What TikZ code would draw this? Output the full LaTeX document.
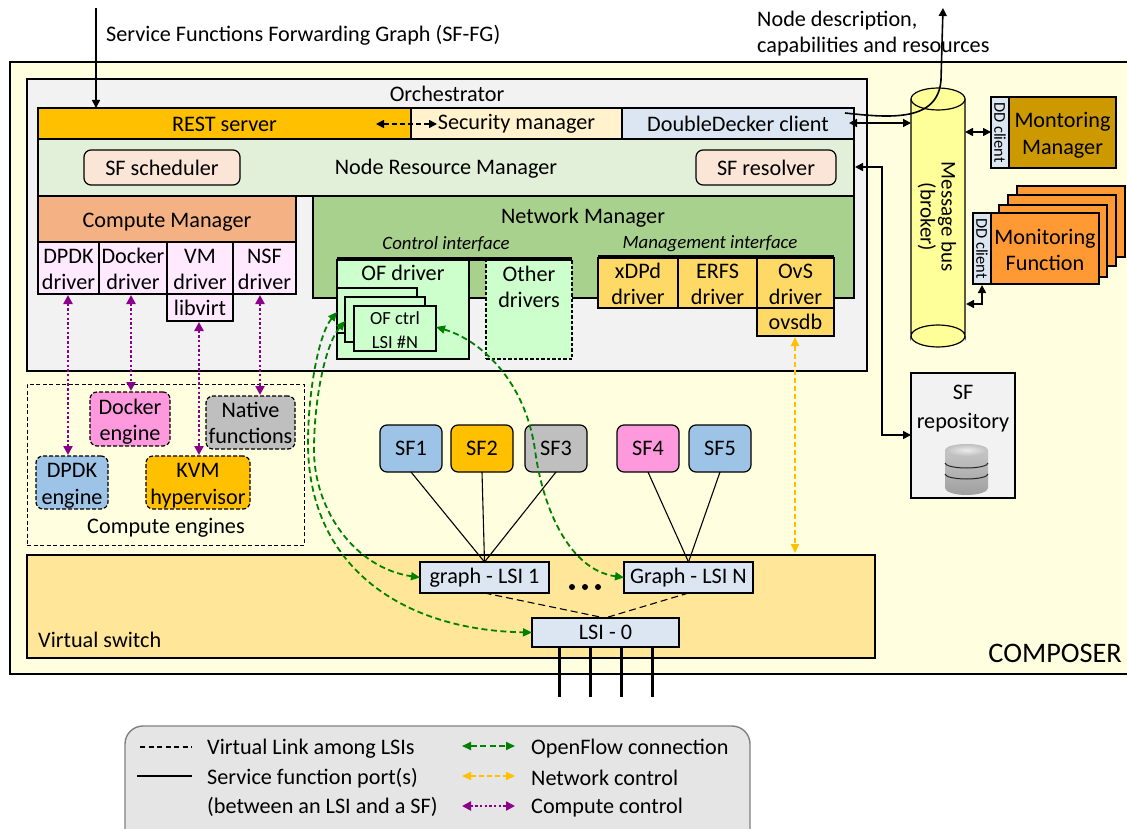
\documentclass[tikz,border=0pt]{standalone}
\usepackage{fontspec}
\setmainfont{Carlito}
\usetikzlibrary{arrows.meta,calc}
\definecolor{compbg}{HTML}{FFFFE0}
\definecolor{orchbg}{HTML}{F2F2F2}
\definecolor{restc}{HTML}{FFC000}
\definecolor{secc}{HTML}{FFF2CC}
\definecolor{ddc}{HTML}{DCE6F2}
\definecolor{nrmc}{HTML}{E2EFD9}
\definecolor{sfsc}{HTML}{FBE5D6}
\definecolor{cmc}{HTML}{F4B183}
\definecolor{drvc}{HTML}{FFE9FF}
\definecolor{nmc}{HTML}{A9D18E}
\definecolor{ofc}{HTML}{CCFFCC}
\definecolor{mgc}{HTML}{FFD966}
\definecolor{busc}{HTML}{FFFF99}
\definecolor{mmc}{HTML}{CC9900}
\definecolor{mfc}{HTML}{FF9933}
\definecolor{vsc}{HTML}{FFE699}
\definecolor{bluec}{HTML}{9DC3E6}
\definecolor{pinkc}{HTML}{FF99DD}
\definecolor{grayc}{HTML}{BFBFBF}
\definecolor{ofgreen}{HTML}{008000}
\definecolor{purp}{HTML}{8B008B}
\tikzset{
 bx/.style={draw=black,line width=1.2pt,align=center,inner sep=0pt,outer sep=0pt,font=\fontsize{22.2}{26.5}\selectfont},
 rbx/.style={bx,rounded corners=7pt},
 dbx/.style={bx,rounded corners=7pt,dash pattern=on 4pt off 2pt},
 lab/.style={inner sep=0pt,font=\fontsize{22.2}{26.5}\selectfont,align=center},
 blk/.style={line width=1.6pt,{Triangle[length=8pt,width=8pt]}-{Triangle[length=8pt,width=8pt]}},
 blkone/.style={line width=1.6pt,-{Triangle[length=8pt,width=8pt]}},
 ofl/.style={draw=ofgreen,line width=1.8pt,dash pattern=on 6pt off 3.5pt,{Triangle[length=9pt,width=8pt]}-{Triangle[length=9pt,width=8pt]},color=ofgreen},
 netl/.style={draw=restc,line width=1.8pt,dash pattern=on 5pt off 3pt,{Triangle[length=9pt,width=8pt]}-{Triangle[length=9pt,width=8pt]},color=restc},
 cpl/.style={draw=purp,line width=2.5pt,dash pattern=on 2.5pt off 2.2pt,{Triangle[length=9pt,width=9pt]}-{Triangle[length=9pt,width=9pt]},color=purp},
 vlink/.style={line width=1.1pt,dash pattern=on 7pt off 4pt},
 sfport/.style={line width=1.1pt},
 phy/.style={line width=3pt},
}
\newcommand{\bxat}[7][]{%
 \node[#2,#1,minimum width={(#6-#4)*1pt},minimum height={(#7-#5)*1pt}] (#3) at ({(#4+#6)/2},{(#5+#7)/2})}
\newcommand{\lift}[1]{\rule{0pt}{#1pt}}
\begin{document}
\begin{tikzpicture}[x=1pt,y=-1pt]
\useasboundingbox (0,0) rectangle (1127,829);
\clip (0,0) rectangle (1127,829);
% composer
\bxat[fill=compbg,line width=2pt]{bx}{composer}{10}{62}{1140}{674}{};
\node[lab,anchor=east,font=\fontsize{28.3}{30}\selectfont] (composertxt) at (1122,653) {COMPOSER};
% orchestrator
\bxat[fill=orchbg,line width=2pt]{bx}{orch}{27}{79}{867}{371}{};
\node[lab] (orchtxt) at (447,93.5) {Orchestrator};
\bxat[fill=restc]{bx}{rest}{38}{108}{411}{139}{\lift{16.5}REST server};
\bxat[fill=secc]{bx}{sec}{411}{108}{622}{139}{};
\node[lab] (sectxt) at (516.5,124) {Security manager};
\bxat[fill=ddc]{bx}{ddclient}{622}{108}{854}{139}{DoubleDecker client};
\bxat[fill=nrmc]{bx}{nrm}{38}{139}{854}{196}{\lift{18.5}Node Resource Manager};
\bxat[fill=sfsc]{rbx}{sched}{84}{150}{240}{185}{SF scheduler};
\bxat[fill=sfsc]{rbx}{resolver}{696}{150}{836}{185}{SF resolver};
% compute manager
\bxat[fill=cmc]{bx}{cm}{38}{196}{296}{242}{\lift{20.5}Compute Manager};
\bxat[fill=drvc]{bx}{ddpdk}{38}{242}{99}{294}{\lift{17}DPDK\\driver};
\bxat[fill=drvc]{bx}{ddock}{99}{242}{167}{294}{\lift{17}Docker\\driver};
\bxat[fill=drvc]{bx}{dvm}{167}{242}{233}{294}{\lift{17}VM\\driver};
\bxat[fill=drvc]{bx}{dnsf}{233}{242}{296}{294}{\lift{17}NSF\\driver};
\bxat[fill=drvc]{bx}{libvirt}{167}{294}{233}{321}{libvirt};
% network manager
\bxat[fill=nmc]{bx}{nm}{313}{196}{854}{298}{};
\node[lab] (nmtxt) at (583,218) {Network Manager};
\node[lab,font=\fontsize{18.8}{20}\selectfont\itshape] (ctrlif) at (446,244) {Control interface};
\node[lab,font=\fontsize{18.8}{20}\selectfont\itshape] (mgmtif) at (710,244) {Management interface};
\bxat[fill=ofc]{bx}{ofdrv}{337}{260}{469}{359}{};
\node[lab] (ofdrvtxt) at (403,273) {OF driver};
\bxat[fill=ofc,dash pattern=on 3.5pt off 2pt]{bx}{other}{486}{260}{572}{359}{};
\node[lab] (othertxt) at (529,287) {Other\\drivers};
\draw[line width=4pt] (337,259) -- (572,259);
\bxat[fill=ofc]{bx}{ofa}{337}{288}{417}{333}{};
\bxat[fill=ofc]{bx}{ofb}{345}{297}{425}{342}{};
\bxat[fill=ofc,font=\fontsize{18.5}{24}\selectfont]{bx}{ofc}{354}{306}{436}{351}{\lift{16}OF ctrl\\LSI \#N};
\bxat[fill=mgc]{bx}{xdpd}{598}{258}{678}{308}{\lift{17.5}xDPd\\driver};
\bxat[fill=mgc]{bx}{erfs}{678}{258}{757}{308}{\lift{17.5}ERFS\\driver};
\bxat[fill=mgc]{bx}{ovs}{757}{258}{834}{308}{\lift{17.5}OvS\\driver};
\bxat[fill=mgc]{bx}{ovsdb}{757}{308}{834}{336}{ovsdb};
\draw[line width=3.5pt] (598,257) -- (834,257);
% compute engines
\bxat[dash pattern=on 4pt off 2.5pt,line width=1pt]{bx}{engines}{27}{384}{304}{545}{};
\node[lab] (enginestxt) at (166,528) {Compute engines};
\bxat[fill=pinkc]{dbx}{dockeng}{90}{392}{170}{446}{\lift{20.5}Docker\\engine};
\bxat[fill=grayc]{dbx}{native}{206}{396}{295}{449}{\lift{16.5}Native\\functions};
\bxat[fill=bluec]{dbx}{dpdkeng}{36}{456}{108}{509}{\lift{20.5}DPDK\\engine};
\bxat[fill=restc]{dbx}{kvm}{146}{456}{250}{509}{\lift{20.5}KVM\\hypervisor};
% virtual switch
\bxat[fill=vsc]{bx}{vs}{27}{555}{875}{658}{};
\node[lab,anchor=west] (vstxt) at (38,640) {Virtual switch};
\bxat[fill=ddc]{bx}{lsione}{420}{562}{549}{593}{graph - LSI 1};
\bxat[fill=ddc]{bx}{lsin}{624}{562}{753}{593}{Graph - LSI N};
\bxat[fill=ddc]{bx}{lsizero}{532}{618}{679}{647}{LSI - 0};
\foreach \i/\x in {a/572,b/585,c/598}{\node[circle,fill=black,inner sep=0pt,minimum size=6pt] (dot\i) at (\x,587) {};}
% SFs
\bxat[fill=bluec]{rbx}{sfa}{380}{425}{442}{472}{SF1};
\bxat[fill=restc]{rbx}{sfb}{451}{425}{513}{472}{SF2};
\bxat[fill=grayc]{rbx}{sfc}{525}{425}{587}{472}{SF3};
\bxat[fill=pinkc]{rbx}{sfd}{617}{425}{679}{472}{SF4};
\bxat[fill=bluec]{rbx}{sfe}{689}{425}{751}{472}{SF5};
\draw[sfport] (sfa.south) -- (lsione.north);
\draw[sfport] (sfb.south) -- (lsione.north);
\draw[sfport] (sfc.south) -- (lsione.north);
\draw[sfport] (sfd.south) -- (lsin.north);
\draw[sfport] (sfe.south) -- (lsin.north);
\coordinate (zt) at (605,618);
\draw[vlink] (lsione.south) -- (zt);
\draw[vlink] (lsin.south) -- (zt);
\foreach \i/\x in {a/559,b/590,c/621,d/652}{
 \coordinate (ph\i) at (\x,697);
 \draw[phy] (ph\i |- lsizero.south) -- (ph\i);}
% bus
\fill[busc] (911,99) -- (911,336) arc[start angle=180,end angle=360,x radius=27pt,y radius=11pt] -- (965,99) -- cycle;
\draw[line width=1.2pt,fill=busc] (911,99) -- (911,336) arc[start angle=180,end angle=360,x radius=27pt,y radius=-11pt] -- (965,99);
\draw[line width=1.2pt,fill=busc] (938,99) ellipse[x radius=27pt,y radius=11pt];
\draw[line width=1.2pt] (911,336) arc[start angle=180,end angle=360,x radius=27pt,y radius=11pt];
\node[inner sep=0pt,minimum width=54pt,minimum height=236pt] (bus) at (938,217) {};
\node[lab,rotate=-90,font=\fontsize{21}{21}\selectfont] (bustxt) at (937,217) {Message bus\\(broker)};
% monitoring
\bxat[fill=mmc]{bx}{mm}{1009}{97}{1116}{168}{\lift{20.5}Montoring\\Manager};
\bxat[fill=ddc,font=\fontsize{16.5}{18}\selectfont]{bx}{ddm}{991}{97}{1009}{168}{\rotatebox{-90}{DD client}};
\bxat[fill=mfc]{bx}{mfd}{1017}{186}{1125}{257}{};
\bxat[fill=mfc]{bx}{mfc}{1008}{195}{1116}{266}{};
\bxat[fill=mfc]{bx}{mfb}{999}{205}{1107}{277}{};
\bxat[fill=mfc]{bx}{mf}{991}{213}{1099}{284}{\lift{18}Monitoring\\Function};
\bxat[fill=ddc,font=\fontsize{16.5}{18}\selectfont]{bx}{ddf}{973}{213}{991}{284}{\rotatebox{-90}{DD client}};
% repository
\bxat[fill=orchbg]{bx}{repo}{911}{373}{1015}{498}{};
\node[lab,font=\fontsize{22.2}{29}\selectfont] (repotxt) at (963,409) {SF\\repository};
\shade[top color=gray!45,bottom color=gray!75] (945,450) -- (945,488) arc[start angle=180,end angle=360,x radius=21.5pt,y radius=7pt] -- (988,450) -- cycle;
\shade[inner color=gray!15,outer color=gray!50] (966.5,450) ellipse[x radius=21.5pt,y radius=6pt];
\draw[gray!30!black,line width=1pt] (945,463) arc[start angle=180,end angle=360,x radius=21.5pt,y radius=5pt];
\draw[gray!30!black,line width=1pt] (945,474) arc[start angle=180,end angle=360,x radius=21.5pt,y radius=5pt];
% top texts
\coordinate (sfgtop) at (96,8);
\coordinate (nodeout) at (943,8);
\node[lab,anchor=west] (sfgtxt) at (106,35) {Service Functions Forwarding Graph (SF-FG)};
\node[lab,anchor=west] (nodetxt) at (757,34) {\begin{tabular}{@{}l@{}}Node description,\\capabilities and resources\end{tabular}};
\draw[blkone] (sfgtop) -- (sfgtop |- rest.north);
\coordinate (ddstart) at (845,113);
\draw[blkone] (ddstart) .. controls (890,118) and (938,122) .. (941,80) -- (nodeout);
\coordinate (dda) at (849,123);
\coordinate (ddb) at (911,123);
\draw[blk] (dda) -- (ddb);
\coordinate (mma) at (965,132);
\draw[blk] (mma) -- (mma -| ddm.west);
\coordinate (mfa) at (966,304);
\draw[blk] (mfa) -- (982,304) -- (982,285);
\draw[blk] (855,167) -- (882,167) -- (882,435) -- (repo.west |- 0,435);
\draw[line width=1.6pt,{Triangle[length=8pt,width=8pt]}-{Triangle[length=8pt,width=8pt]},dash pattern=on 5pt off 3pt] (376,124) -- (437,124);
% compute control
\draw[cpl] (68,295) -- (68,455);
\draw[cpl] (131,295) -- (131,391);
\draw[cpl] (199,322) -- (199,455);
\draw[cpl] (260,295) -- (260,395);
% network control
\draw[netl] (795,337) -- (795,553);
% openflow
\draw[ofl] (337,312) .. controls (318,335) and (308,395) .. (308,443) .. controls (308,565) and (400,630) .. (lsizero.west);
\draw[ofl] (345,321) .. controls (325,345) and (314,400) .. (314,450) .. controls (314,510) and (355,568) .. (lsione.west);
\draw[ofl] (436,327) .. controls (480,340) and (525,380) .. (535,450) .. controls (543,510) and (570,570) .. (lsin.west);
% legend
\bxat[fill=black!10,draw=black!50,rounded corners=18pt,line width=1.4pt]{bx}{legend}{125}{726}{750}{850}{};
\coordinate (lga) at (140,747); \coordinate (lgb) at (192,747);
\draw[line width=1.2pt,dash pattern=on 5pt off 3.5pt] (lga) -- (lgb);
\coordinate (lgc) at (137,776); \coordinate (lgd) at (192,776);
\draw[line width=1.2pt] (lgc) -- (lgd);
\node[lab,anchor=west] (lt1) at (207,749) {Virtual Link among LSIs};
\node[lab,anchor=west] (lt2) at (207,778) {Service function port(s)};
\node[lab,anchor=west] (lt3) at (207,807) {(between an LSI and a SF)};
\node[lab,anchor=west] (lt4) at (531,749) {OpenFlow connection};
\node[lab,anchor=west] (lt5) at (531,778) {Network control};
\node[lab,anchor=west] (lt6) at (531,808) {Compute control};
\coordinate (la1) at (462,746); \coordinate (la2) at (515,746);
\coordinate (la3) at (462,776); \coordinate (la4) at (515,776);
\coordinate (la5) at (462,806); \coordinate (la6) at (515,806);
\draw[ofl] (la1) -- (la2);
\draw[netl] (la3) -- (la4);
\draw[cpl] (la5) -- (la6);
\end{tikzpicture}
\end{document}
